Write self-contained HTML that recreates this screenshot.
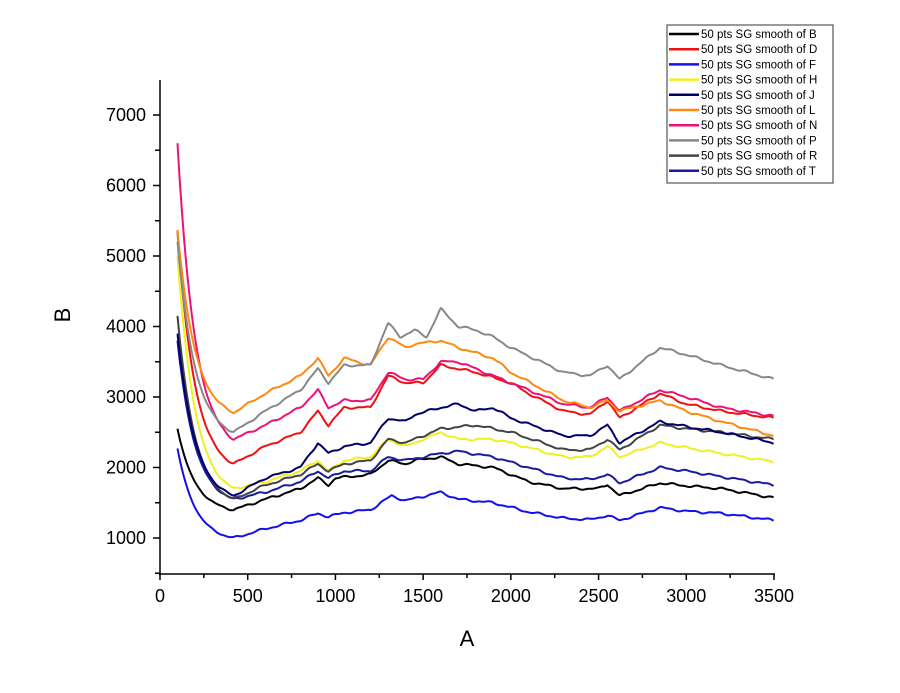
<!DOCTYPE html>
<html><head><meta charset="utf-8"><style>
body{margin:0;background:#fff}
svg text{font-family:"Liberation Sans",Arial,sans-serif}
</style></head><body>
<svg id="s" width="900" height="688" xmlns="http://www.w3.org/2000/svg">
<rect width="900" height="688" fill="#fff"/>
<g id="series" fill="none" stroke-width="2" stroke-linejoin="round"></g>
<g stroke="#000" stroke-width="1.5" fill="none">
<line x1="160" y1="80" x2="160" y2="575"/>
<line x1="159" y1="574" x2="775" y2="574"/>
</g>
<g id="ticks" stroke="#000" stroke-width="1.5"></g>
<g id="labels" font-size="18" fill="#000"></g>
<text x="467" y="646" font-size="22" text-anchor="middle">A</text>
<text x="70" y="315" font-size="22" text-anchor="middle" transform="rotate(-90 70 315)">B</text>
<rect x="667" y="25" width="166" height="158" fill="#fff" stroke="#333" stroke-width="1"/>
<g id="legend" font-size="11.5"></g>
</svg>
<script>
const X=v=>160+v*614/3500, Y=v=>538-(v-1000)*423/6000;
const NS="http://www.w3.org/2000/svg";
function el(t,a,p,txt){const e=document.createElementNS(NS,t);for(const k in a)e.setAttribute(k,a[k]);if(txt)e.textContent=txt;p.appendChild(e);return e;}
const tk=document.getElementById('ticks'),lb=document.getElementById('labels');
for(let v=0;v<=3500;v+=250){const x=X(v);el('line',{x1:x,y1:574,x2:x,y2:v%500==0?580:578},tk);if(v%500==0)el('text',{x:x,y:602,'text-anchor':'middle'},lb,String(v));}
for(let v=500;v<=7500;v+=500){const y=Y(v);if(y<80)continue;el('line',{x1:v%1000==0?153:155,y1:y,x2:160,y2:y},tk);if(v%1000==0)el('text',{x:146,y:y+6,'text-anchor':'end'},lb,String(v));}
const S=[
["B","#000000",[[100,2550],[420,1400],[600,1550],[800,1700],[900,1850],[960,1750],[1000,1850],[1200,1900],[1300,2100],[1400,2050],[1450,2100],[1600,2150],[1700,2050],[1900,2000],[2100,1800],[2300,1700],[2500,1700],[2550,1760],[2620,1600],[2850,1780],[3000,1740],[3200,1700],[3500,1570]]],
["D","#ee1111",[[100,5350],[420,2050],[600,2300],[800,2500],[900,2800],[960,2600],[1050,2850],[1200,2850],[1300,3300],[1400,3200],[1500,3200],[1600,3450],[1700,3400],[1800,3350],[2000,3200],[2100,3050],[2300,2800],[2450,2750],[2550,2950],[2620,2700],[2850,3050],[3000,2900],[3200,2800],[3500,2700]]],
["F","#1111ee",[[100,2270],[420,1000],[600,1130],[800,1250],[900,1350],[960,1300],[1050,1360],[1200,1400],[1320,1600],[1400,1530],[1600,1650],[1700,1550],[1900,1500],[2100,1370],[2300,1280],[2450,1260],[2550,1320],[2620,1250],[2850,1430],[3000,1380],[3200,1350],[3500,1250]]],
["H","#f0f020",[[100,5000],[420,1700],[600,1800],[800,1950],[900,2100],[960,1950],[1050,2100],[1200,2150],[1300,2400],[1400,2300],[1600,2500],[1700,2400],[1900,2400],[2000,2350],[2300,2150],[2450,2150],[2550,2300],[2620,2150],[2850,2350],[3000,2280],[3200,2200],[3500,2080]]],
["J","#000066",[[100,3900],[420,1600],[600,1850],[800,2000],[900,2350],[960,2200],[1050,2300],[1200,2350],[1300,2700],[1400,2650],[1450,2750],[1600,2850],[1700,2900],[1800,2800],[1900,2850],[2000,2700],[2300,2450],[2450,2450],[2550,2600],[2620,2350],[2850,2650],[3000,2580],[3200,2500],[3500,2350]]],
["L","#ff8811",[[100,5370],[420,2780],[600,3050],[800,3300],[900,3550],[960,3300],[1050,3550],[1200,3450],[1300,3850],[1400,3700],[1450,3750],[1600,3800],[1700,3700],[1900,3550],[2000,3350],[2300,2950],[2450,2850],[2550,2950],[2620,2800],[2850,2950],[3000,2800],[3200,2650],[3500,2450]]],
["N","#ee1177",[[100,6600],[420,2400],[600,2600],[800,2850],[900,3100],[960,2850],[1050,2950],[1200,2950],[1300,3350],[1400,3250],[1500,3250],[1600,3500],[1700,3500],[1800,3400],[2000,3200],[2300,2900],[2450,2850],[2550,3000],[2620,2800],[2850,3100],[3000,3000],[3200,2850],[3500,2730]]],
["P","#888888",[[100,5200],[420,2500],[600,2800],[800,3100],[900,3400],[960,3200],[1050,3450],[1200,3450],[1300,4050],[1370,3850],[1450,3950],[1520,3850],[1600,4250],[1700,4000],[1800,3950],[1900,3850],[2000,3700],[2300,3350],[2450,3300],[2550,3450],[2620,3250],[2850,3700],[3000,3600],[3200,3450],[3500,3250]]],
["R","#444444",[[100,4150],[420,1550],[600,1750],[800,1900],[900,2050],[960,1950],[1050,2050],[1200,2100],[1300,2400],[1400,2350],[1600,2550],[1800,2600],[2000,2500],[2300,2250],[2450,2250],[2550,2400],[2620,2250],[2850,2600],[3000,2550],[3200,2500],[3500,2400]]],
["T","#1a1aa0",[[100,3800],[420,1550],[600,1650],[800,1800],[900,1950],[960,1850],[1050,1950],[1200,1950],[1300,2150],[1400,2100],[1600,2200],[1700,2230],[1900,2150],[2300,1850],[2450,1830],[2550,1900],[2620,1780],[2850,2000],[3000,1950],[3200,1870],[3500,1750]]]
];
const g=document.getElementById('series');
function interp(p,x){for(let i=0;i<p.length-1;i++){if(x<=p[i+1][0]){const t=(x-p[i][0])/(p[i+1][0]-p[i][0]);return p[i][1]+(p[i+1][1]-p[i][1])*t;}}return p[p.length-1][1];}
const order=[2,0,9,3,8,4,1,6,5,7];
order.forEach((si)=>{const [n,c,p]=S[si];const s=p[0][1],m=p[1][1],k=100,e=Math.exp(-320/k);let d="";
for(let x=100;x<=3500;x+=(x<420?4:6)){let v;const w=Math.sin(x/23+si)*12+Math.sin(x/11)*6;
if(x<420){const t=(x-100)/320;v=m+(s-m)*(Math.exp(-(x-100)/k)-e)/(1-e)+w*t;}
else{v=interp(p,x)+w;}
d+=(d?"L":"M")+X(x).toFixed(1)+" "+Y(v).toFixed(1);}
el('path',{d:d,stroke:c},g);});
const lg=document.getElementById('legend');
S.forEach(([n,c],i)=>{const y=34+i*15.2;el('line',{x1:669,y1:y,x2:699,y2:y,stroke:c,'stroke-width':2.5},lg);el('text',{x:701,y:y+4},lg,"50 pts SG smooth of "+n);});
</script>
</body></html>
